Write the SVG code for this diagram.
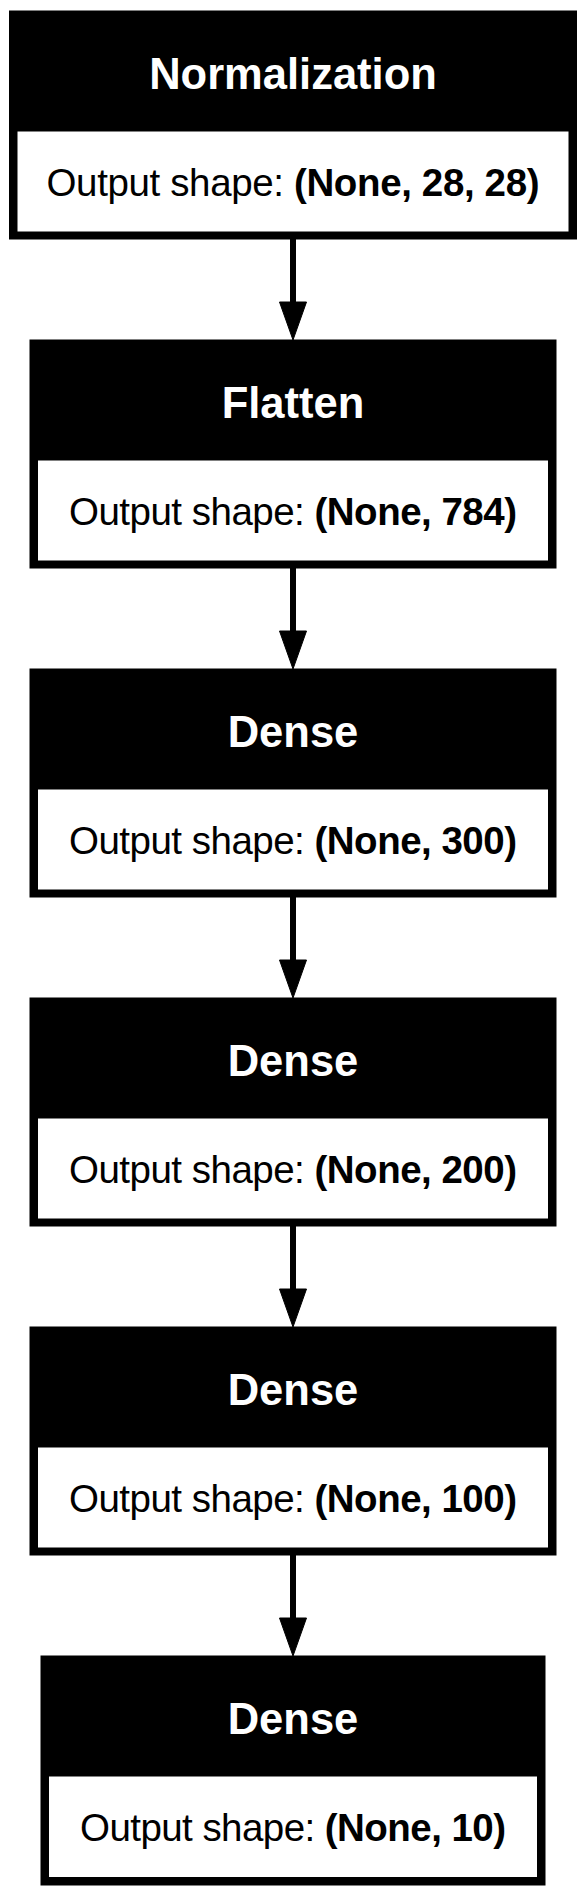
<svg xmlns="http://www.w3.org/2000/svg" width="586" height="1897" viewBox="0 0 586 1897">
<style>
.outer{fill:#000;stroke:#000;stroke-width:1}
.inner{fill:#fff}
.title{font-family:"Liberation Sans",Arial,sans-serif;font-weight:bold;font-size:43.5px;fill:#fff;text-anchor:middle}
.out{font-family:"Liberation Sans",Arial,sans-serif;font-size:38.5px;fill:#000;text-anchor:middle}
.b{font-weight:bold}
.edge{stroke:#000;stroke-width:6;fill:none}
.head{fill:#000;stroke:#000;stroke-width:1}
</style>
<rect width="586" height="1897" fill="#fff"/>
<g id="edges">
<line class="edge" x1="293" y1="239" x2="293" y2="302"/><polygon class="head" points="279.5,302 306.5,302 293,340"/>
<line class="edge" x1="293" y1="568" x2="293" y2="631"/><polygon class="head" points="279.5,631 306.5,631 293,669"/>
<line class="edge" x1="293" y1="897" x2="293" y2="960"/><polygon class="head" points="279.5,960 306.5,960 293,998"/>
<line class="edge" x1="293" y1="1226" x2="293" y2="1289"/><polygon class="head" points="279.5,1289 306.5,1289 293,1327"/>
<line class="edge" x1="293" y1="1555" x2="293" y2="1618"/><polygon class="head" points="279.5,1618 306.5,1618 293,1656"/>
</g>
<g id="node-normalization">
<rect class="outer" x="9.5" y="11" width="567" height="228"/>
<rect class="inner" x="17.5" y="131.5" width="551" height="100"/>
<text class="title" x="293" y="88.5">Normalization</text>
<text class="out" x="293" y="195.5" textLength="493" lengthAdjust="spacing">Output shape: <tspan class="b">(None, 28, 28)</tspan></text>
</g>
<g id="node-flatten">
<rect class="outer" x="30" y="340" width="526" height="228"/>
<rect class="inner" x="38" y="460.5" width="510" height="100"/>
<text class="title" x="293" y="417.5">Flatten</text>
<text class="out" x="293" y="524.5" textLength="448" lengthAdjust="spacing">Output shape: <tspan class="b">(None, 784)</tspan></text>
</g>
<g id="node-dense-300">
<rect class="outer" x="30" y="669" width="526" height="228"/>
<rect class="inner" x="38" y="789.5" width="510" height="100"/>
<text class="title" x="293" y="746.5">Dense</text>
<text class="out" x="293" y="853.5" textLength="448" lengthAdjust="spacing">Output shape: <tspan class="b">(None, 300)</tspan></text>
</g>
<g id="node-dense-200">
<rect class="outer" x="30" y="998" width="526" height="228"/>
<rect class="inner" x="38" y="1118.5" width="510" height="100"/>
<text class="title" x="293" y="1075.5">Dense</text>
<text class="out" x="293" y="1182.5" textLength="448" lengthAdjust="spacing">Output shape: <tspan class="b">(None, 200)</tspan></text>
</g>
<g id="node-dense-100">
<rect class="outer" x="30" y="1327" width="526" height="228"/>
<rect class="inner" x="38" y="1447.5" width="510" height="100"/>
<text class="title" x="293" y="1404.5">Dense</text>
<text class="out" x="293" y="1511.5" textLength="448" lengthAdjust="spacing">Output shape: <tspan class="b">(None, 100)</tspan></text>
</g>
<g id="node-dense-10">
<rect class="outer" x="41" y="1656" width="504" height="229"/>
<rect class="inner" x="49" y="1776.5" width="488" height="100.5"/>
<text class="title" x="293" y="1733.5">Dense</text>
<text class="out" x="293" y="1840.5" textLength="426" lengthAdjust="spacing">Output shape: <tspan class="b">(None, 10)</tspan></text>
</g>
</svg>
